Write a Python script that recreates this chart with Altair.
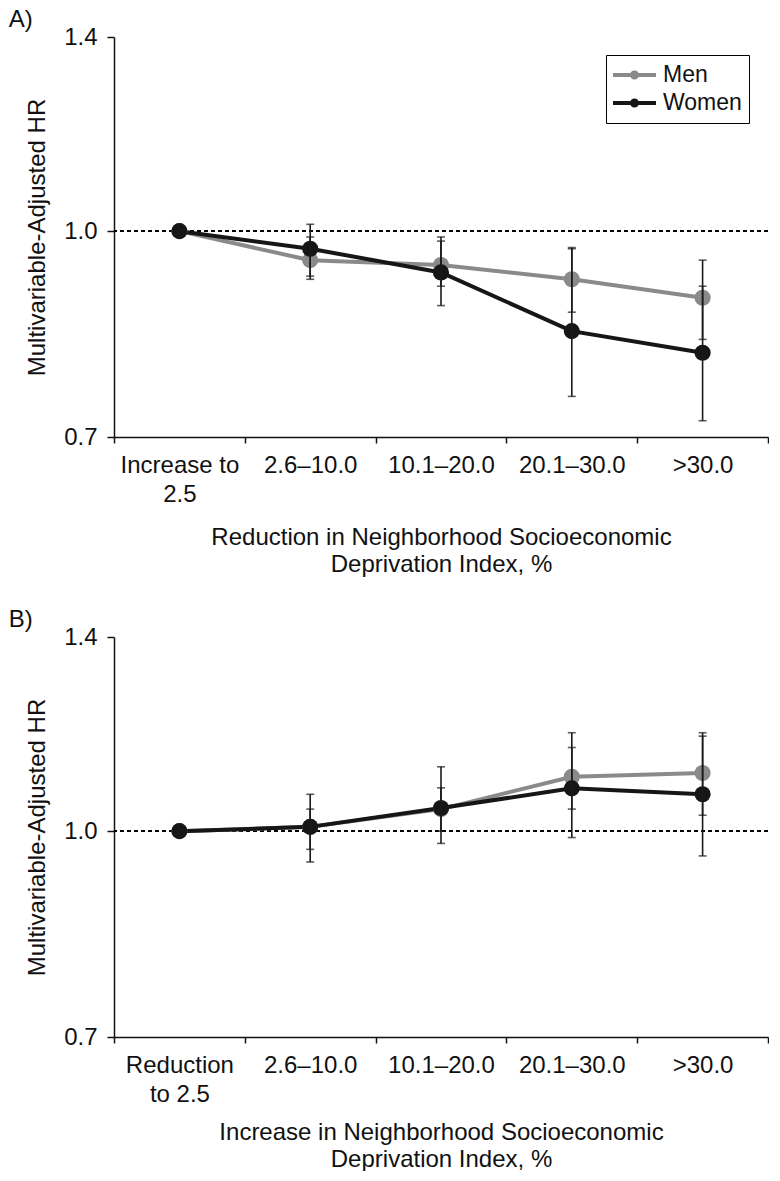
import altair as alt
import pandas as pd

FONT = "Liberation Sans"
GRAY = "#8a8a8a"
BLACK = "#161616"

sexes = ["Men", "Women"]
REF_HR = 1.0
y_ticks = [0.7, 1.0, 1.4]

# Panel A: reduction in deprivation index
cats_a = ["Increase to\n2.5", "2.6–10.0", "10.1–20.0", "20.1–30.0", ">30.0"]
a_men_hr = [1.0, 0.951, 0.943, 0.920, 0.891]
a_men_lo = [None, 0.920, 0.909, 0.869, 0.829]
a_men_hi = [None, 0.990, 0.983, 0.972, 0.951]
a_women_hr = [1.0, 0.970, 0.931, 0.841, 0.810]
a_women_lo = [None, 0.925, 0.879, 0.751, 0.720]
a_women_hi = [None, 1.012, 0.990, 0.970, 0.909]

# Panel B: increase in deprivation index
cats_b = ["Reduction\nto 2.5", "2.6–10.0", "10.1–20.0", "20.1–30.0", ">30.0"]
b_men_hr = [1.0, 1.0075, 1.039, 1.099, 1.106]
b_men_lo = [None, 0.969, 1.000, 1.039, 1.028]
b_men_hi = [None, 1.039, 1.078, 1.156, 1.186]
b_women_hr = [1.0, 1.0075, 1.041, 1.077, 1.066]
b_women_lo = [None, 0.948, 0.979, 0.989, 0.958]
b_women_hi = [None, 1.066, 1.118, 1.186, 1.179]

# legend symbol: a thick line with a filled dot (unit coordinates)
LEGEND_SYMBOL = ("M-1,-0.093L1,-0.093L1,0.093L-1,0.093Z"
                 "M0.21,0A0.21,0.21,0,1,1,-0.21,0A0.21,0.21,0,1,1,0.21,0Z")


def make_df(cats, mh, ml, mu, wh, wl, wu):
    rows = []
    for sex, hr, lo, hi in (("Men", mh, ml, mu), ("Women", wh, wl, wu)):
        for i, c in enumerate(cats):
            rows.append({"cat": c, "sex": sex, "hr": hr[i], "lo": lo[i], "hi": hi[i]})
    return pd.DataFrame(rows)


def panel(df, cats, letter, x_title, show_legend, x_title_pad):
    x = alt.X(
        "cat:N",
        sort=cats,
        scale=alt.Scale(type="band", paddingInner=0, paddingOuter=0),
        axis=alt.Axis(
            title=x_title,
            labelExpr="split(datum.label, '\\n')",
            labelAngle=0,
            tickBand="extent",
            labelPadding=10,
            labelLineHeight=29,
            titlePadding=x_title_pad,
            titleLineHeight=27,
        ),
    )
    y = alt.Y(
        "hr:Q",
        scale=alt.Scale(type="log", domain=[0.7, 1.4], nice=False, zero=False),
        axis=alt.Axis(
            values=y_ticks,
            format=".1f",
            title="Multivariable-Adjusted HR",
            tickSize=7,
            labelPadding=10,
            titlePadding=14,
        ),
    )
    color_scale = alt.Scale(domain=sexes, range=[GRAY, BLACK])
    if show_legend:
        leg = alt.Legend(
            title=None,
            orient="none",
            legendX=492,
            legendY=18,
            symbolType=LEGEND_SYMBOL,
            symbolSize=1849,
            symbolStrokeWidth=0,
            labelFontSize=23,
            labelFont=FONT,
            labelColor="#111",
            labelOffset=7,
            padding=7,
            rowPadding=2,
            clipHeight=26,
            strokeColor="black",
        )
    else:
        leg = None

    base = alt.Chart(df)
    ref = base.mark_rule(strokeDash=[4, 3], strokeWidth=1, color="black").encode(
        y=alt.datum(REF_HR)
    )
    lines = base.mark_line(strokeWidth=4).encode(
        x=x, y=y, color=alt.Color("sex:N", scale=color_scale, legend=None)
    )
    pts = base.mark_circle(size=260, opacity=1).encode(
        x=x, y=y, color=alt.Color("sex:N", scale=color_scale, legend=leg)
    )
    bars = base.transform_filter("isValid(datum.lo)").mark_rule(
        color="#1a1a1a", strokeWidth=1.6
    ).encode(x=x, y="lo:Q", y2="hi:Q")
    cap_lo = base.transform_filter("isValid(datum.lo)").mark_tick(
        color="#1a1a1a", size=8, thickness=1.6
    ).encode(x=x, y="lo:Q")
    cap_hi = base.transform_filter("isValid(datum.hi)").mark_tick(
        color="#1a1a1a", size=8, thickness=1.6
    ).encode(x=x, y="hi:Q")

    return (
        alt.layer(ref, lines, pts, bars, cap_lo, cap_hi)
        .resolve_legend(color="independent")
        .properties(
            width=654,
            height=400,
            title=alt.TitleParams(
                letter, anchor="start", frame="bounds", fontSize=24, font=FONT,
                fontWeight="normal", color="#111", dx=-17, offset=-7,
            ),
        )
    )


df_a = make_df(cats_a, a_men_hr, a_men_lo, a_men_hi, a_women_hr, a_women_lo, a_women_hi)
df_b = make_df(cats_b, b_men_hr, b_men_lo, b_men_hi, b_women_hr, b_women_lo, b_women_hi)

chart_a = panel(df_a, cats_a, "A)",
                ["Reduction in Neighborhood Socioeconomic", "Deprivation Index, %"], True, 19)
chart_b = panel(df_b, cats_b, "B)",
                ["Increase in Neighborhood Socioeconomic", "Deprivation Index, %"], False, 14)

chart = (
    alt.vconcat(chart_a, chart_b, spacing=32)
    .resolve_legend(color="independent")
    .resolve_scale(color="independent")
    .properties(padding={"left": 0, "top": 0, "right": 0, "bottom": 0})
    .configure_view(stroke=None)
    .configure_axis(
        labelFont=FONT,
        titleFont=FONT,
        labelFontSize=24,
        titleFontSize=24,
        titleFontWeight="normal",
        labelColor="#111",
        titleColor="#111",
        domainColor="#111",
        tickColor="#111",
        domainWidth=1.5,
        tickWidth=1.5,
        tickSize=6,
        grid=False,
    )
)

chart.save("out.html", embed_options={"renderer": "svg", "actions": False})
